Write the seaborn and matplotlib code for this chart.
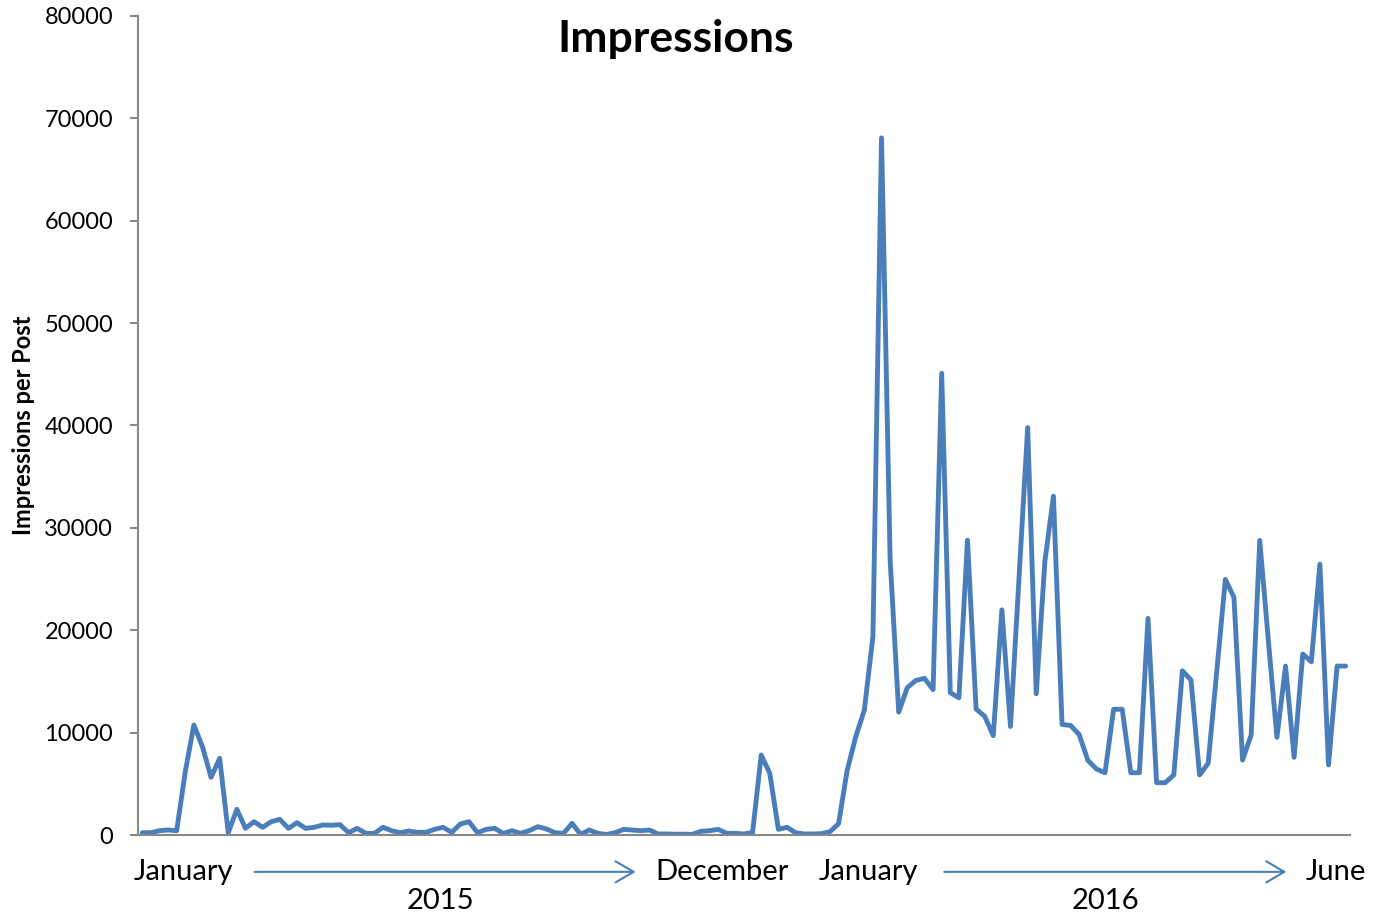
import matplotlib
matplotlib.use("Agg")
import matplotlib.pyplot as plt
import seaborn as sns
import numpy as np
import pandas as pd

# ---- data ----
impressions = [
    225, 225, 420, 490, 420, 6180, 10740, 8620, 5630, 7490,
    225, 2510, 650, 1300, 750, 1300, 1530, 650, 1200, 650,
    750, 980, 950, 1010, 225, 650, 160, 160, 750, 420,
    225, 390, 260, 260, 550, 750, 260, 1070, 1300, 225,
    550, 650, 150, 420, 160, 420, 810, 590, 225, 160,
    1140, 50, 490, 160, 50, 225, 550, 490, 420, 490,
    100, 100, 80, 80, 60, 360, 420, 550, 160, 160,
    100, 260, 7810, 6020, 550, 750, 225, 100, 100, 130,
    330, 1100, 6300, 9600, 12200, 19400, 68100, 26900, 12000, 14400,
    15100, 15300, 14200, 45100, 13900, 13400, 28800, 12300, 11600, 9700,
    22000, 10600, 25200, 39800, 13800, 26700, 33100, 10800, 10700, 9800,
    7300, 6450, 6080, 12280, 12280, 6080, 6080, 21160, 5110, 5110,
    5860, 16040, 15140, 5860, 7000, 16000, 24970, 23210, 7320, 9770,
    28780, 19000, 9540, 16500, 7590, 17680, 16920, 26460, 6840, 16500,
    16500,
]
month_labels = ["January", "December", "January", "June"]
year_labels = ["2015", "2016"]
y_ticks = list(range(0, 80001, 10000))

df = pd.DataFrame({"post": np.arange(len(impressions)), "impressions": impressions})

# ---- style ----
sns.set_style("white")
plt.rcParams["font.family"] = ["Lato", "DejaVu Sans"]
plt.rcParams["text.color"] = "black"
plt.rcParams["axes.labelcolor"] = "black"

LINE = "#4A7EBB"
AXIS = "#888888"

fig = plt.figure(figsize=(13.82, 9.13), dpi=100)
ax = fig.add_axes([138 / 1382, 78 / 913, (1350 - 138) / 1382, (835 - 16) / 913])

sns.lineplot(data=df, x="post", y="impressions", ax=ax, color=LINE,
             linewidth=3.5, solid_joinstyle="round", solid_capstyle="round")

ax.set_xlim(-0.5, len(impressions) - 0.5)
ax.set_ylim(0, 80000)
ax.set_yticks(y_ticks)
ax.set_yticklabels([str(v) for v in y_ticks], fontsize=17)
ax.set_xticks([])
ax.set_xlabel("")
ax.set_ylabel("Impressions per Post", fontsize=17, fontweight="bold", color="black")
ax.yaxis.set_label_coords(-0.0850, 0.5)

for s in ["top", "right"]:
    ax.spines[s].set_visible(False)
for s in ["left", "bottom"]:
    ax.spines[s].set_color(AXIS)
    ax.spines[s].set_linewidth(1.5)
ax.tick_params(axis="y", direction="out", length=6, width=1.5, color=AXIS,
               pad=12, left=True, labelcolor="black")

# category labels below axis
tr = ax.get_xaxis_transform()
month_pos = [4.8, 67.5, 84.45, 138.8]
for lbl, xp in zip(month_labels, month_pos):
    ax.text(xp, -0.045, lbl, transform=tr, ha="center", va="center", fontsize=21,
            color="black", clip_on=False)
year_pos = [34.7, 112.0]
for lbl, xp in zip(year_labels, year_pos):
    ax.text(xp, -0.080, lbl, transform=tr, ha="center", va="center", fontsize=21,
            color="black", clip_on=False)

arrows = [(13.05, 57.4), (93.3, 133.1)]
for x0, x1 in arrows:
    ax.annotate("", xy=(x1, -0.045), xytext=(x0, -0.045), xycoords=tr, textcoords=tr,
                annotation_clip=False,
                arrowprops=dict(arrowstyle="->,head_length=0.65,head_width=0.38",
                                color=LINE, lw=1.5, mutation_scale=20,
                                shrinkA=0, shrinkB=0))

fig.text(676 / 1382, 1 - 39 / 913, "Impressions", ha="center", va="center",
         fontsize=32, fontweight="bold", color="black")

fig.savefig("out.png", dpi=100)
